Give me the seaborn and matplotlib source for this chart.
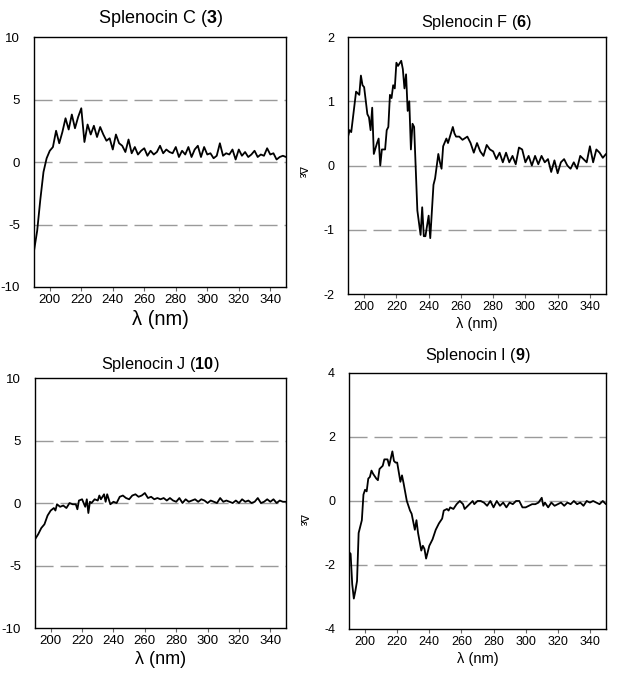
import pandas as pd
import seaborn as sns
import matplotlib.pyplot as plt

# CD spectra (wavelength in nm, delta epsilon)
wl_c = [190, 192, 194, 196, 198, 200, 202, 204, 206, 208, 210, 212, 214, 216, 218, 220,
        222, 224, 226, 228, 230, 232, 234, 236, 238, 240, 242, 244, 246, 248, 250, 252,
        254, 256, 258, 260, 262, 264, 266, 268, 270, 272, 274, 276, 278, 280, 282, 284,
        286, 288, 290, 292, 294, 296, 298, 300, 302, 304, 306, 308, 310, 312, 314, 316,
        318, 320, 322, 324, 326, 328, 330, 332, 334, 336, 338, 340, 342, 344, 346, 348, 350]
de_c = [-7.1, -5.5, -3.0, -0.8, 0.3, 0.9, 1.2, 2.5, 1.5, 2.4, 3.5, 2.6, 3.8, 2.7, 3.6, 4.3,
        1.6, 3.0, 2.2, 2.9, 2.0, 2.8, 2.2, 1.7, 1.9, 1.0, 2.2, 1.5, 1.3, 0.8, 1.8, 0.7,
        1.2, 0.6, 0.9, 1.1, 0.5, 0.9, 0.6, 0.8, 1.3, 0.7, 1.0, 0.8, 0.7, 1.2, 0.4, 0.9,
        0.6, 1.2, 0.4, 1.0, 1.3, 0.4, 1.2, 0.6, 0.7, 0.3, 0.5, 1.5, 0.5, 0.7, 0.6, 1.0,
        0.2, 1.0, 0.5, 0.8, 0.4, 0.6, 0.9, 0.4, 0.6, 0.5, 1.1, 0.6, 0.7, 0.2, 0.4, 0.5, 0.4]

wl_f = [190, 191, 192, 195, 197, 198, 199, 200, 202, 203, 204, 205, 206, 208, 209, 210,
        211, 213, 214, 215, 216, 217, 218, 219, 220, 221, 223, 224, 225, 226, 227, 228,
        229, 230, 231, 233, 235, 236, 237, 238, 240, 241, 243, 244, 246, 247, 248, 249,
        251, 252, 255, 256, 257, 259, 261, 264, 266, 268, 270, 272, 274, 276, 278, 280,
        282, 284, 286, 288, 290, 292, 294, 296, 298, 300, 302, 304, 306, 308, 310, 312,
        314, 316, 318, 320, 322, 324, 326, 328, 330, 332, 334, 336, 338, 340, 342, 344,
        346, 348, 350]
de_f = [0.45, 0.55, 0.52, 1.15, 1.1, 1.4, 1.25, 1.22, 0.8, 0.75, 0.55, 0.9, 0.18, 0.35, 0.42, 0.0,
        0.25, 0.25, 0.55, 0.6, 1.1, 1.05, 1.25, 1.2, 1.6, 1.55, 1.63, 1.5, 1.2, 1.42, 0.85, 1.0,
        0.25, 0.65, 0.6, -0.7, -1.08, -0.65, -1.1, -1.1, -0.78, -1.13, -0.3, -0.2, 0.18, 0.05, -0.05, 0.3,
        0.42, 0.35, 0.6, 0.5, 0.45, 0.45, 0.4, 0.45, 0.35, 0.2, 0.35, 0.22, 0.15, 0.32, 0.25, 0.22,
        0.1, 0.2, 0.05, 0.2, 0.05, 0.15, 0.02, 0.28, 0.25, 0.05, 0.15, 0.0, 0.15, 0.02, 0.15, 0.05,
        0.1, -0.1, 0.08, -0.12, 0.05, 0.1, 0.0, -0.05, 0.05, -0.05, 0.15, 0.1, 0.05, 0.3, 0.05, 0.25,
        0.2, 0.12, 0.18]

wl_j = [190, 192, 194, 196, 198, 200, 202, 203, 204, 206, 208, 210, 212, 214, 216, 217,
        218, 220, 222, 223, 224, 225, 226, 228, 230, 231, 232, 234, 235, 236, 238, 240,
        242, 244, 246, 248, 250, 252, 254, 256, 258, 260, 262, 264, 266, 268, 270, 272,
        274, 276, 278, 280, 282, 284, 286, 288, 290, 292, 294, 296, 298, 300, 302, 304,
        306, 308, 310, 312, 314, 316, 318, 320, 322, 324, 326, 328, 330, 332, 334, 336,
        338, 340, 342, 344, 346, 348, 350]
de_j = [-2.9, -2.5, -2.0, -1.7, -1.0, -0.6, -0.4, -0.6, -0.1, -0.3, -0.2, -0.4, 0.0, -0.1, -0.1, -0.5,
        0.2, 0.3, -0.3, 0.3, -0.8, 0.1, 0.0, 0.3, 0.2, 0.6, 0.3, 0.7, 0.1, 0.7, -0.1, 0.1,
        0.0, 0.5, 0.6, 0.4, 0.3, 0.6, 0.7, 0.5, 0.6, 0.8, 0.4, 0.5, 0.3, 0.4, 0.3, 0.4,
        0.2, 0.4, 0.2, 0.1, 0.4, 0.0, 0.3, 0.1, 0.2, 0.3, 0.1, 0.3, 0.2, 0.0, 0.2, 0.1,
        0.0, 0.4, 0.1, 0.2, 0.1, 0.0, 0.2, 0.0, 0.3, 0.1, 0.2, 0.0, 0.1, 0.4, 0.0, 0.1,
        0.3, 0.1, 0.3, 0.0, 0.2, 0.1, 0.1]

wl_i = [190, 191, 192, 193, 194, 195, 196, 198, 199, 200, 201, 202, 203, 204, 205, 207,
        208, 209, 211, 212, 214, 215, 217, 218, 219, 220, 222, 223, 224, 226, 228, 229,
        231, 232, 233, 235, 236, 237, 238, 240, 242, 244, 246, 248, 249, 251, 252, 253,
        255, 257, 259, 261, 262, 264, 267, 268, 270, 272, 274, 276, 278, 280, 282, 284,
        286, 288, 290, 292, 294, 296, 298, 300, 302, 304, 306, 308, 310, 311, 312, 314,
        316, 318, 320, 322, 324, 326, 328, 330, 332, 334, 336, 338, 340, 342, 344, 346,
        348, 350]
de_i = [-1.6, -1.65, -2.6, -3.05, -2.8, -2.5, -1.0, -0.6, 0.2, 0.35, 0.3, 0.7, 0.75, 0.95, 0.85, 0.7,
        0.65, 1.0, 1.1, 1.3, 1.3, 1.1, 1.55, 1.25, 1.2, 1.2, 0.6, 0.8, 0.55, 0.0, -0.3, -0.4,
        -0.9, -0.6, -1.0, -1.55, -1.4, -1.5, -1.8, -1.4, -1.2, -0.9, -0.7, -0.55, -0.3, -0.25, -0.3, -0.2,
        -0.25, -0.1, 0.0, -0.1, -0.25, -0.15, 0.0, -0.1, 0.0, 0.0, -0.05, -0.15, 0.0, -0.2, 0.0, -0.15,
        -0.05, -0.2, -0.05, -0.1, 0.0, 0.0, -0.2, -0.2, -0.15, -0.1, -0.1, -0.05, 0.1, -0.15, -0.05, -0.2,
        -0.05, -0.15, -0.1, -0.05, -0.15, -0.05, -0.1, 0.0, -0.1, -0.05, -0.15, 0.0, -0.05, 0.0, -0.05, -0.1,
        0.0, -0.1]

titles = ["Splenocin C ($\\mathbf{3}$)", "Splenocin F ($\\mathbf{6}$)",
          "Splenocin J ($\\mathbf{10}$)", "Splenocin I ($\\mathbf{9}$)"]
ylims = [10, 2, 10, 4]
ysteps = [5, 1, 5, 2]
x_ticks = [200, 220, 240, 260, 280, 300, 320, 340]

sns.set_theme(style="white")
plt.rcParams['font.family'] = ['Liberation Sans', 'DejaVu Sans']
plt.rcParams['mathtext.fontset'] = 'custom'
plt.rcParams['mathtext.rm'] = 'Liberation Sans'
plt.rcParams['mathtext.bf'] = 'Liberation Sans:bold'
plt.rcParams['text.color'] = 'black'
plt.rcParams['axes.labelcolor'] = 'black'
plt.rcParams['xtick.labelcolor'] = 'black'
plt.rcParams['ytick.labelcolor'] = 'black'

fig = plt.figure(figsize=(6.21, 6.83), dpi=100)
# axes boxes (fig fraction)
boxes = [[0.0548, 0.5798, 0.4058, 0.366],
         [0.5604, 0.5695, 0.4155, 0.3763],
         [0.0564, 0.0805, 0.4042, 0.366],
         [0.5620, 0.0791, 0.4138, 0.3748]]
title_fs = [13, 11.7, 11.7, 11.7]
title_pad = [10, 7, 6.5, 9]
tick_fs = [9.5, 9, 9.5, 9]
xlab_fs = [14.5, 10.5, 13, 10.5]
ylab_y = [None, 0.475, None, 0.426]

series = [(wl_c, de_c), (wl_f, de_f), (wl_j, de_j), (wl_i, de_i)]

for k, (wl, de) in enumerate(series):
    ax = fig.add_axes(boxes[k])
    df = pd.DataFrame({"wl": wl, "de": de})
    lim = ylims[k]
    step = ysteps[k]
    yt = [-lim, -step, 0, step, lim]
    for y in yt[1:-1]:
        ax.axhline(y, color="#9a9a9a", lw=1.0, dashes=(13, 5), zorder=1)
    sns.lineplot(data=df, x="wl", y="de", ax=ax, color="black", lw=1.3, sort=True, zorder=3)
    ax.set_xlim(190, 350)
    ax.set_ylim(-lim, lim)
    ax.set_xticks(x_ticks)
    ax.set_yticks(yt)
    ax.set_yticklabels([str(v) for v in yt])
    ax.tick_params(axis="x", bottom=True, length=3, width=0.8, color="#666666",
                   labelsize=tick_fs[k], pad=2)
    ax.tick_params(axis="y", left=False, labelsize=tick_fs[k], pad=4)
    for s in ax.spines.values():
        s.set_color("black")
        s.set_linewidth(1.0)
    ax.set_title(titles[k], fontsize=title_fs[k], pad=title_pad[k])
    ax.set_xlabel("λ (nm)", fontsize=xlab_fs[k], labelpad=3)
    if ylab_y[k] is None:
        ax.set_ylabel("")
    else:
        ax.set_ylabel("Δε", fontsize=8, rotation=-90)
        ax.yaxis.set_label_coords(-0.198, ylab_y[k])

fig.savefig("out.png", dpi=100)
